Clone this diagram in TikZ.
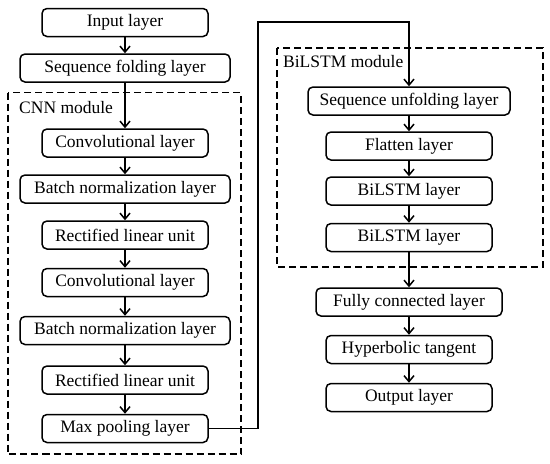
\documentclass[tikz,border=0pt]{standalone}
\usepackage{fontspec}
\setmainfont{Liberation Serif}
\usetikzlibrary{arrows.meta}
\begin{document}
\begin{tikzpicture}[x=1pt,y=-1pt,
  layer/.style={draw, line width=1.5pt, rounded corners=5pt, minimum height=28pt, inner sep=0pt, font=\fontsize{17.5}{20}\selectfont},
  modbox/.style={draw, line width=1.6pt, dash pattern=on 7pt off 4pt},
  modlabel/.style={anchor=west, inner sep=0pt, font=\fontsize{17.5}{20}\selectfont},
  flow/.style={line width=1.5pt, -{Straight Barb[length=6pt,width=10pt,line width=1.5pt]}}]
\useasboundingbox (0,0) rectangle (550,464);
% module boxes
\draw[modbox] (8,92.5) rectangle (241,454);
\draw[modbox] (277,48) rectangle (543,267);
\node[modlabel] (cnnlab) at (19,108) {CNN module};
\node[modlabel] (bilab) at (283,62) {BiLSTM module};
% left column
\node[layer, minimum width=166pt] (in) at (125,22.5) {Input layer};
\node[layer, minimum width=210pt] (fold) at (125,68) {Sequence folding layer};
\node[layer, minimum width=166pt] (conv1) at (125,143) {Convolutional layer};
\node[layer, minimum width=210pt] (bn1) at (125,189) {Batch normalization layer};
\node[layer, minimum width=166pt] (relu1) at (125,235) {Rectified linear unit};
\node[layer, minimum width=166pt] (conv2) at (125,282.5) {Convolutional layer};
\node[layer, minimum width=210pt] (bn2) at (125,330.5) {Batch normalization layer};
\node[layer, minimum width=166pt] (relu2) at (125,380) {Rectified linear unit};
\node[layer, minimum width=166pt] (pool) at (125,428.5) {Max pooling layer};
% right column
\node[layer, minimum width=202pt] (unfold) at (409,101) {Sequence unfolding layer};
\node[layer, minimum width=166pt] (flat) at (409,146) {Flatten layer};
\node[layer, minimum width=166pt] (bil1) at (409,191) {BiLSTM layer};
\node[layer, minimum width=166pt] (bil2) at (409,237.5) {BiLSTM layer};
\node[layer, minimum width=186pt] (fc) at (409,302) {Fully connected layer};
\node[layer, minimum width=166pt] (tanh) at (409,349.5) {Hyperbolic tangent};
\node[layer, minimum width=166pt] (out) at (409,397.5) {Output layer};
% connectors
\draw[flow] (in) -- (fold);
\draw[flow] (fold) -- (conv1);
\draw[flow] (conv1) -- (bn1);
\draw[flow] (bn1) -- (relu1);
\draw[flow] (relu1) -- (conv2);
\draw[flow] (conv2) -- (bn2);
\draw[flow] (bn2) -- (relu2);
\draw[flow] (relu2) -- (pool);
\coordinate (turn) at (258,22);
\draw[flow, rounded corners=0pt] (pool.east) -| (turn) -| (unfold.north);
\draw[flow] (unfold) -- (flat);
\draw[flow] (flat) -- (bil1);
\draw[flow] (bil1) -- (bil2);
\draw[flow] (bil2) -- (fc);
\draw[flow] (fc) -- (tanh);
\draw[flow] (tanh) -- (out);
\end{tikzpicture}
\end{document}
